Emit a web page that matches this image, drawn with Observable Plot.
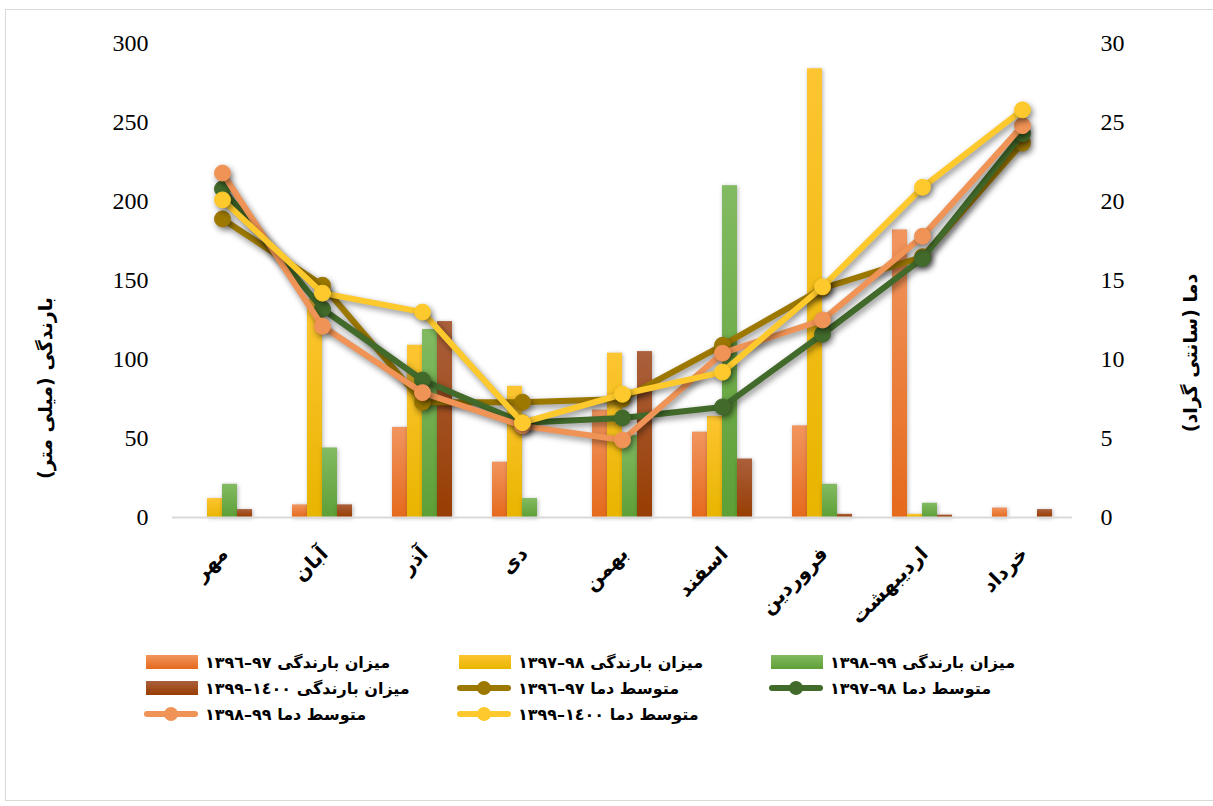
<!DOCTYPE html>
<html>
<head>
<meta charset="utf-8">
<script src="https://cdn.jsdelivr.net/npm/d3@7"></script>
<script src="https://cdn.jsdelivr.net/npm/@observablehq/plot@0.6"></script>
<style>
  html, body { margin: 0; padding: 0; background: #fff; }
  body { width: 1213px; height: 806px; position: relative; overflow: hidden; }
  #frame { position: absolute; left: 5px; top: 9px; width: 1230px; height: 790px; border: 1px solid #d9d9d9; }
  #chart { position: absolute; left: 0; top: 0; }
  .ytitle { position: absolute; font-family: "DejaVu Sans", sans-serif; font-weight: bold; font-size: 19px; color: #000; white-space: nowrap; transform: translate(-50%, -50%) rotate(-90deg); }
  .leg { position: absolute; display: flex; align-items: center; height: 26px; }
  .leg .sw { width: 52px; height: 14px; }
  .leg .txt { margin-left: 7px; font-family: "DejaVu Sans", sans-serif; font-weight: bold; font-size: 16px; color: #000; white-space: nowrap; }
</style>
</head>
<body>
<div id="frame"></div>
<div id="chart"></div>
<script>
// ---- data ----
const months = ["مهر", "آبان", "آذر", "دی", "بهمن", "اسفند", "فروردین", "اردیبهشت", "خرداد"];

// rainfall (mm)
const rain1396_97 = [0, 8, 57, 35, 68, 54, 58, 182, 6];
const rain1397_98 = [12, 138, 109, 83, 104, 64, 284, 2, 0];
const rain1398_99 = [21, 44, 119, 12, 52, 210, 21, 9, 0];
const rain1399_1400 = [5, 8, 124, 0, 105, 37, 2, 1.5, 5];

// mean temperature (°C)
const temp1396_97 = [18.9, 14.7, 7.3, 7.3, 7.5, 10.9, 14.5, 16.5, 23.7];
const temp1397_98 = [20.8, 13.2, 8.7, 6.0, 6.3, 7.0, 11.6, 16.4, 24.3];
const temp1398_99 = [21.8, 12.1, 7.9, 5.8, 4.9, 10.4, 12.5, 17.8, 24.8];
const temp1399_1400 = [20.1, 14.2, 13.0, 6.0, 7.8, 9.2, 14.6, 20.9, 25.8];

const rainTicks = [0, 50, 100, 150, 200, 250, 300];

const leftTitle = "بارندگی (میلی متر)";
const rightTitle = "دما (سانتی گراد)";

// legend labels
const lblRain96 = "میزان بارندگی ٩٧–١٣٩٦";
const lblRain97 = "میزان بارندگی ٩٨–١٣٩٧";
const lblRain98 = "میزان بارندگی ٩٩–١٣٩٨";
const lblRain99 = "میزان بارندگی ١٤٠٠–١٣٩٩";
const lblTemp96 = "متوسط دما ٩٧–١٣٩٦";
const lblTemp97 = "متوسط دما ٩٨–١٣٩٧";
const lblTemp98 = "متوسط دما ٩٩–١٣٩٨";
const lblTemp99 = "متوسط دما ١٤٠٠–١٣٩٩";

// ---- series configuration ----
const barSeries = [
  {vals: rain1396_97, grad: "gOr", top: "#f1955f", bot: "#e56a1c", off: -22.5, label: lblRain96},
  {vals: rain1397_98, grad: "gYe", top: "#fdc531", bot: "#e8b500", off: -7.5, label: lblRain97},
  {vals: rain1398_99, grad: "gGr", top: "#82bb62", bot: "#5e9f36", off: 7.5, label: lblRain98},
  {vals: rain1399_1400, grad: "gBr", top: "#aa603c", bot: "#983d02", off: 22.5, label: lblRain99}
];
const lineSeries = [
  {vals: temp1396_97, color: "#9c7800", label: lblTemp96},
  {vals: temp1397_98, color: "#426b2b", label: lblTemp97},
  {vals: temp1398_99, color: "#f09356", label: lblTemp98},
  {vals: temp1399_1400, color: "#fdc92c", label: lblTemp99}
];

const barW = 15, band = 100;
const marks = [];
for (const s of barSeries) {
  const data = months.map((m, i) => ({m, v: s.vals[i]})).filter(d => d.v > 0);
  marks.push(Plot.barY(data, {
    x: "m", y: "v", fill: `url(#${s.grad})`,
    insetLeft: band / 2 + s.off - barW / 2,
    insetRight: band / 2 - s.off - barW / 2
  }));
}
marks.push(Plot.ruleY([0], {stroke: "#d9d9d9", strokeWidth: 2}));
for (const s of lineSeries) {
  const data = months.map((m, i) => ({m, t: s.vals[i]}));
  marks.push(Plot.line(data, {x: "m", y: d => d.t * 10, stroke: s.color, strokeWidth: 6, strokeLinejoin: "round", strokeLinecap: "round"}));
  marks.push(Plot.dot(data, {x: "m", y: d => d.t * 10, r: 8, fill: s.color, stroke: s.color, strokeWidth: 1}));
}
marks.push(Plot.axisY({anchor: "left", ticks: rainTicks, tickSize: 0, tickPadding: 24, fontSize: 24, fontFamily: "Liberation Serif, serif", label: null}));
marks.push(Plot.axisY({anchor: "right", ticks: rainTicks, tickSize: 0, tickPadding: 28, tickFormat: d => d / 10, fontSize: 24, fontFamily: "Liberation Serif, serif", label: null}));
marks.push(Plot.axisX({tickSize: 0, tickPadding: 33, tickRotate: -45, dx: 2, fontSize: 20, fontWeight: "bold", fontFamily: "DejaVu Sans, sans-serif", label: null}));

const plot = Plot.plot({
  width: 1213,
  height: 640,
  marginTop: 43,
  marginBottom: 123,
  marginLeft: 172,
  marginRight: 141,
  style: {background: "transparent", color: "#000", overflow: "visible"},
  x: {type: "band", domain: months, padding: 0},
  y: {domain: [0, 300]},
  marks
});

let defs = '<defs>';
for (const s of barSeries) {
  defs += `<linearGradient id="${s.grad}" x1="0" y1="0" x2="0" y2="1"><stop offset="0" stop-color="${s.top}"/><stop offset="1" stop-color="${s.bot}"/></linearGradient>`;
}
defs += '</defs>';
plot.insertAdjacentHTML("afterbegin", defs);
plot.querySelectorAll('g[aria-label="bar"]').forEach(g => g.style.filter = "drop-shadow(1px 1px 2px rgba(0,0,0,0.3))");
plot.querySelectorAll('g[aria-label="line"], g[aria-label="dot"]').forEach(g => g.style.filter = "drop-shadow(2px 3px 3px rgba(0,0,0,0.45))");
document.getElementById("chart").appendChild(plot);

// axis titles
function addTitle(text, x, y) {
  const d = document.createElement("div");
  d.className = "ytitle";
  d.dir = "rtl";
  d.textContent = text;
  d.style.left = x + "px";
  d.style.top = y + "px";
  document.body.appendChild(d);
}
addTitle(leftTitle, 45, 388);
addTitle(rightTitle, 1190, 353);

// legend
const legendItems = [
  {s: barSeries[0], kind: "bar"}, {s: barSeries[1], kind: "bar"}, {s: barSeries[2], kind: "bar"},
  {s: barSeries[3], kind: "bar"}, {s: lineSeries[0], kind: "line"}, {s: lineSeries[1], kind: "line"},
  {s: lineSeries[2], kind: "line"}, {s: lineSeries[3], kind: "line"}
];
const colX = [146, 459, 771];
const rowY = [662, 688, 714];
legendItems.forEach((it, i) => {
  const el = document.createElement("div");
  el.className = "leg";
  el.style.left = colX[i % 3] + "px";
  el.style.top = (rowY[Math.floor(i / 3)] - 13) + "px";
  let sw;
  if (it.kind === "bar") {
    sw = document.createElement("div");
    sw.className = "sw";
    sw.style.background = `linear-gradient(${it.s.top}, ${it.s.bot})`;
  } else {
    sw = document.createElementNS("http://www.w3.org/2000/svg", "svg");
    sw.setAttribute("width", 56);
    sw.setAttribute("height", 20);
    sw.style.marginLeft = "-3px";
    sw.style.marginRight = "-1px";
    sw.innerHTML = `<line x1="4" y1="10" x2="52" y2="10" stroke="${it.s.color}" stroke-width="6" stroke-linecap="round"/><circle cx="28" cy="10" r="7" fill="${it.s.color}"/>`;
  }
  const t = document.createElement("span");
  t.className = "txt";
  t.dir = "rtl";
  t.textContent = it.s.label;
  el.appendChild(sw);
  el.appendChild(t);
  document.body.appendChild(el);
});
</script>
</body>
</html>
